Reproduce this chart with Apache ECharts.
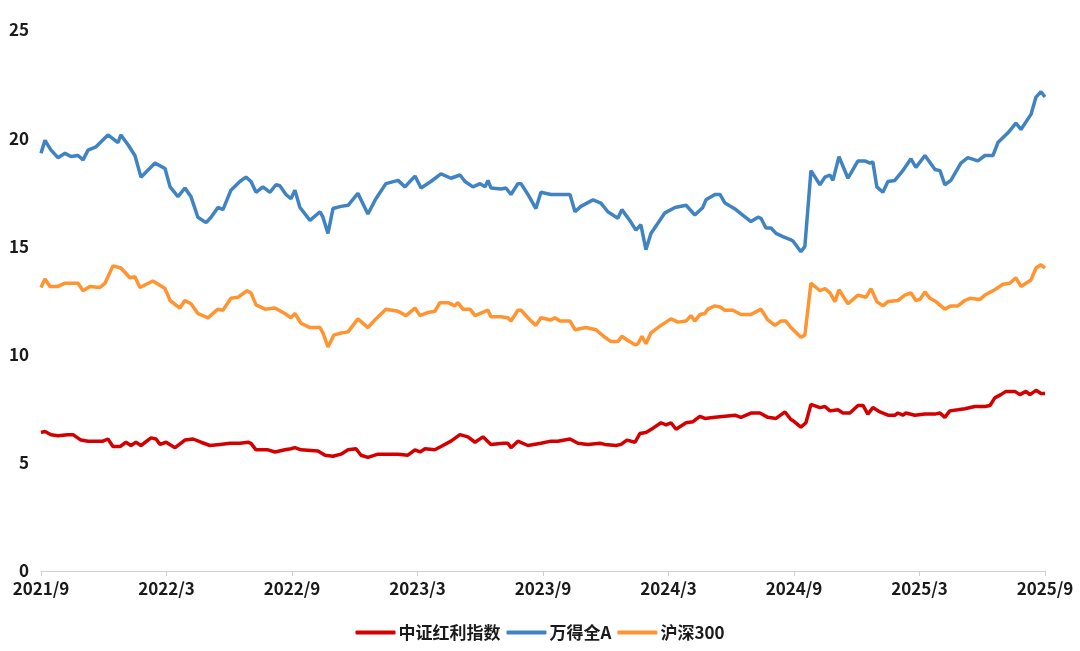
<!DOCTYPE html>
<html>
<head>
<meta charset="utf-8">
<script src="https://cdn.jsdelivr.net/npm/echarts@6/dist/echarts.min.js"></script>
<style>html,body{margin:0;padding:0;background:#fff}#c{width:1080px;height:651px}</style>
</head>
<body>
<div id="c"></div>
<script>
// x values: months since 2021/9
const seriesNames = ['中证红利指数', '万得全A', '沪深300'];
const xTickMonths = [0, 6, 12, 18, 24, 30, 36, 42, 48];
const xTickLabels = ['2021/9','2022/3','2022/9','2023/3','2023/9','2024/3','2024/9','2025/3','2025/9'];

const blueM = [0,0.19,0.48,0.81,1.15,1.43,1.77,2.01,2.25,2.63,3.2,3.68,3.82,4.16,4.49,4.78,5.45,5.93,6.17,6.55,6.88,7.17,7.5,7.89,8.13,8.46,8.7,9.08,9.51,9.8,10.04,10.28,10.61,10.95,11.23,11.42,11.71,11.95,12.14,12.38,12.86,13.34,13.48,13.72,13.96,14.34,14.68,15.15,15.63,16.01,16.49,17.07,17.4,17.88,18.17,18.64,19.12,19.6,20.03,20.27,20.65,20.99,21.23,21.37,21.51,21.99,22.23,22.47,22.8,22.95,23.28,23.66,23.9,24.38,25.29,25.53,25.81,26.39,26.77,27.1,27.58,27.77,28.15,28.44,28.68,28.92,29.16,29.83,30.31,30.84,31.26,31.64,31.79,32.22,32.46,32.7,33.22,33.94,34.28,34.42,34.66,34.9,35.14,35.47,35.85,35.95,36.33,36.52,36.81,37.24,37.48,37.72,37.86,38.15,38.58,39.06,39.39,39.63,39.77,39.96,40.25,40.49,40.82,41.2,41.59,41.83,42.26,42.74,42.98,43.21,43.5,43.98,44.31,44.79,45.13,45.51,45.75,46.23,46.61,46.85,47.33,47.57,47.81,48];
const blueV = [19.3,19.9,19.45,19.1,19.3,19.15,19.2,19.0,19.45,19.6,20.15,19.8,20.15,19.7,19.2,18.2,18.85,18.6,17.75,17.3,17.7,17.3,16.35,16.1,16.35,16.8,16.7,17.6,18.0,18.2,18.0,17.5,17.75,17.5,17.85,17.8,17.4,17.2,17.6,16.8,16.2,16.6,16.35,15.6,16.75,16.85,16.9,17.45,16.5,17.2,17.9,18.05,17.75,18.25,17.7,18.0,18.35,18.15,18.3,18.0,17.75,17.9,17.75,18.05,17.7,17.65,17.7,17.4,17.9,17.9,17.4,16.75,17.5,17.4,17.4,16.6,16.85,17.15,17.0,16.6,16.3,16.7,16.2,15.75,16.0,14.85,15.6,16.55,16.8,16.9,16.45,16.8,17.15,17.4,17.4,17.0,16.7,16.15,16.35,16.3,15.85,15.85,15.6,15.45,15.3,15.25,14.75,15.0,18.5,17.85,18.2,18.3,18.05,19.15,18.15,18.95,18.95,18.85,18.9,17.75,17.5,18.0,18.05,18.5,19.05,18.65,19.2,18.55,18.5,17.85,18.05,18.85,19.1,18.95,19.2,19.2,19.8,20.25,20.7,20.4,21.1,21.9,22.15,21.9];

const orangeM = [0,0.19,0.43,0.81,1.15,1.77,2.01,2.34,2.82,3.06,3.44,3.82,4.25,4.49,4.73,5.35,5.93,6.17,6.64,6.88,7.17,7.5,7.98,8.46,8.7,9.08,9.42,9.85,10.04,10.28,10.71,11.19,11.66,11.95,12.14,12.43,12.86,13.34,13.48,13.72,14.0,14.34,14.68,15.15,15.63,16.01,16.49,17.07,17.45,17.88,18.12,18.5,18.83,19.07,19.46,19.79,19.93,20.17,20.51,20.75,21.37,21.51,21.99,22.32,22.47,22.8,22.95,23.38,23.66,23.9,24.38,24.57,24.81,25.29,25.53,26.05,26.53,26.96,27.25,27.58,27.77,28.06,28.4,28.54,28.73,28.92,29.16,29.64,30.12,30.45,30.84,31.07,31.26,31.5,31.74,31.88,32.22,32.46,32.7,33.08,33.46,33.94,34.42,34.75,35.09,35.37,35.61,35.85,36.33,36.52,36.81,37.24,37.48,37.72,37.96,38.15,38.58,39.06,39.44,39.68,39.96,40.25,40.49,40.97,41.3,41.59,41.83,42.02,42.26,42.5,42.78,43.21,43.5,43.83,44.17,44.41,44.89,45.13,45.6,45.99,46.32,46.61,46.85,47.33,47.57,47.81,48];
const orangeV = [13.1,13.5,13.15,13.15,13.3,13.3,12.95,13.15,13.1,13.3,14.1,14.0,13.55,13.6,13.1,13.4,13.05,12.5,12.15,12.5,12.35,11.9,11.7,12.1,12.05,12.6,12.65,12.95,12.85,12.3,12.1,12.15,11.9,11.7,11.9,11.45,11.25,11.25,11.0,10.35,10.9,11.0,11.05,11.65,11.25,11.65,12.1,12.0,11.8,12.15,11.8,11.95,12.0,12.4,12.4,12.25,12.4,12.1,12.1,11.8,12.05,11.75,11.75,11.7,11.55,12.05,12.05,11.6,11.35,11.7,11.6,11.7,11.55,11.55,11.15,11.25,11.15,10.8,10.6,10.6,10.85,10.65,10.45,10.5,10.85,10.5,11.0,11.35,11.65,11.5,11.55,11.8,11.55,11.85,11.9,12.1,12.25,12.2,12.05,12.05,11.85,11.85,12.1,11.6,11.35,11.55,11.55,11.25,10.8,10.9,13.3,12.95,13.05,12.85,12.45,13.0,12.35,12.75,12.65,13.05,12.45,12.25,12.45,12.5,12.75,12.85,12.5,12.55,12.9,12.6,12.45,12.1,12.25,12.25,12.5,12.6,12.55,12.75,13.0,13.25,13.3,13.55,13.15,13.45,14.0,14.15,14.0];

const redM = [0,0.19,0.48,0.81,1.29,1.53,1.91,2.25,2.72,2.96,3.2,3.44,3.78,4.06,4.3,4.54,4.78,5.26,5.5,5.69,5.98,6.41,6.88,7.27,7.65,8.08,8.56,9.04,9.51,9.9,10.04,10.28,10.85,11.19,11.66,11.95,12.14,12.43,13.24,13.58,13.96,14.34,14.68,15.06,15.3,15.63,16.11,16.59,17.07,17.54,17.88,18.12,18.36,18.83,19.12,19.6,20.03,20.41,20.75,21.13,21.51,22.09,22.32,22.47,22.8,23.28,23.9,24.38,24.71,25.29,25.67,26.15,26.72,26.96,27.49,27.73,28.01,28.4,28.63,28.92,29.26,29.64,29.88,30.12,30.36,30.84,31.17,31.5,31.74,32.22,32.7,33.18,33.46,33.94,34.37,34.75,35.14,35.57,35.85,35.95,36.33,36.57,36.81,37.24,37.48,37.72,38.1,38.34,38.67,39.06,39.3,39.53,39.77,40.11,40.49,40.82,40.97,41.2,41.35,41.78,42.26,42.74,42.98,43.21,43.45,43.83,44.17,44.64,45.13,45.37,45.6,45.89,46.13,46.56,46.8,47.09,47.28,47.57,47.81,48];
const redV = [6.4,6.45,6.3,6.25,6.3,6.3,6.05,6.0,6.0,6.0,6.1,5.75,5.75,5.95,5.8,5.95,5.8,6.15,6.1,5.85,5.95,5.7,6.05,6.1,5.95,5.8,5.85,5.9,5.9,5.95,5.9,5.6,5.6,5.5,5.6,5.65,5.7,5.6,5.55,5.35,5.3,5.4,5.6,5.65,5.35,5.25,5.4,5.4,5.4,5.35,5.6,5.5,5.65,5.6,5.75,6.0,6.3,6.2,5.95,6.2,5.85,5.9,5.9,5.7,6.0,5.8,5.9,6.0,6.0,6.1,5.9,5.85,5.9,5.85,5.8,5.85,6.05,5.95,6.35,6.4,6.6,6.85,6.75,6.85,6.55,6.85,6.9,7.15,7.05,7.1,7.15,7.2,7.1,7.3,7.3,7.1,7.05,7.35,7.0,6.95,6.65,6.85,7.7,7.55,7.6,7.4,7.45,7.3,7.3,7.65,7.65,7.25,7.55,7.35,7.2,7.2,7.3,7.2,7.3,7.2,7.25,7.25,7.3,7.1,7.4,7.45,7.5,7.6,7.6,7.65,8.0,8.15,8.3,8.3,8.15,8.3,8.15,8.35,8.2,8.2];

const colors = ['#D40000', '#3F83C3', '#FF9430'];
const pair = (ms, vs) => ms.map((m, i) => [m, vs[i]]);

const chart = echarts.init(document.getElementById('c'));
const font = '"Noto Sans CJK SC", "Noto Sans", sans-serif';
chart.setOption({
  animation: false,
  color: colors,
  textStyle: { fontFamily: font },
  grid: { left: 41, right: 35, top: 30, bottom: 80, containLabel: false },
  legend: {
    bottom: 5,
    left: 'center',
    itemWidth: 40,
    itemHeight: 4,
    itemGap: 6,
    icon: 'roundRect',
    textStyle: { fontSize: 17, color: '#1a1a1a', fontWeight: 'bold', fontFamily: font, padding: [0, 0, 0, -2] },
    data: seriesNames
  },
  xAxis: {
    type: 'value',
    min: 0, max: 48, interval: 6,
    splitLine: { show: false },
    axisLine: { show: true, lineStyle: { color: '#d0d0d0', width: 1 } },
    axisTick: { show: true, length: 5, lineStyle: { color: '#d0d0d0' } },
    axisLabel: {
      fontSize: 17, color: '#1a1a1a', fontWeight: 'bold', margin: 9,
      formatter: v => { const i = xTickMonths.indexOf(v); return i >= 0 ? xTickLabels[i] : ''; }
    }
  },
  yAxis: {
    type: 'value',
    min: 0, max: 25, interval: 5,
    splitLine: { show: false },
    axisLine: { show: false },
    axisTick: { show: false },
    axisLabel: { fontSize: 17, color: '#1a1a1a', fontWeight: 'bold', margin: 12 }
  },
  series: [
    { name: seriesNames[0], type: 'line', showSymbol: false, data: pair(redM, redV), lineStyle: { width: 3.5 } },
    { name: seriesNames[1], type: 'line', showSymbol: false, data: pair(blueM, blueV), lineStyle: { width: 3.5 } },
    { name: seriesNames[2], type: 'line', showSymbol: false, data: pair(orangeM, orangeV), lineStyle: { width: 3.5 } }
  ]
});
</script>
</body>
</html>
